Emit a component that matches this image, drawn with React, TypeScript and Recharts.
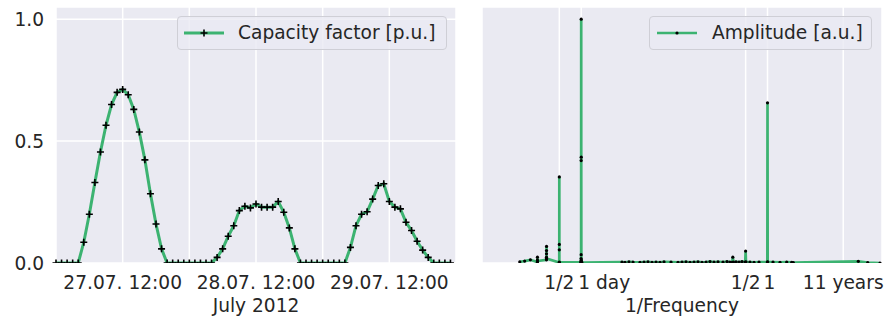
import React from 'react';
import { LineChart, Line, XAxis, YAxis, CartesianGrid } from 'recharts';

// hourly capacity factor, 27.07.2012 00:00 .. 29.07.2012 23:00
const capacityFactor = [
  0, 0, 0, 0, 0, 0.085, 0.2, 0.33, 0.455, 0.565, 0.65, 0.7, 0.712, 0.69, 0.63, 0.537,
  0.423, 0.284, 0.16, 0.058, 0, 0, 0, 0, 0, 0, 0, 0, 0, 0.023, 0.058, 0.11,
  0.153, 0.215, 0.233, 0.226, 0.242, 0.229, 0.229, 0.229, 0.252, 0.208, 0.144, 0.058, 0, 0,
  0, 0, 0, 0, 0, 0, 0, 0.064, 0.153, 0.2, 0.21, 0.262, 0.318, 0.325, 0.252, 0.229,
  0.222, 0.167, 0.133, 0.089, 0.053, 0.023, 0, 0, 0, 0,
];
const hourTicks = [12, 24, 36, 48, 60];
const hourTickLabels = ['27.07. 12:00', '', '28.07. 12:00', '', '29.07. 12:00'];

// spectrum: period in days, amplitude in a.u.
const periodDays = [
  0.1429, 0.1667, 0.2, 0.2495, 0.2498, 0.25, 0.2502, 0.3328, 0.333, 0.3332, 0.3334, 0.3336, 0.3338,
  0.499, 0.4995, 0.4998, 0.5, 0.5005, 0.985, 0.992, 0.996, 0.998, 0.999, 1.0, 1.001, 1.004, 1.01, 1.02,
  3.64, 4.0, 4.54, 5.16, 6.44, 7.31, 8.29, 9.42, 10.69, 12.13, 13.77, 17.19, 21.45, 24.35, 27.64,
  31.37, 35.61, 40.43, 45.89, 52.09, 59.13, 67.11, 76.17, 89.21, 101.3, 111.4, 119.5, 121.75, 124,
  134.7, 148.1, 162.9, 180.5, 182.6, 184.5, 209.8, 238.2, 279.1, 363.5, 365.25, 367, 434.7, 542.7,
  670.8, 786.4, 827, 6480, 8729, 12882,
];
const amplitude = [
  0.005, 0.008, 0.013, 0.004, 0.012, 0.024, 0.008, 0.013, 0.024, 0.038, 0.051, 0.068, 0.018,
  0.002, 0.054, 0.076, 0.353, 0.004, 0.003, 0.008, 0.018, 0.034, 0.42, 1.0, 0.434, 0.012, 0.006, 0.002,
  0.004, 0.003, 0.005, 0.004, 0.003, 0.004, 0.005, 0.003, 0.004, 0.003, 0.005, 0.004, 0.003, 0.004, 0.005,
  0.003, 0.004, 0.005, 0.003, 0.004, 0.006, 0.004, 0.005, 0.004, 0.006, 0.004, 0.003, 0.024, 0.004,
  0.005, 0.004, 0.006, 0.004, 0.049, 0.005, 0.004, 0.003, 0.004, 0.004, 0.657, 0.005, 0.004, 0.003,
  0.004, 0.003, 0.002, 0.007, 0.002, 0,
];
const periodTicks = [0.5, 1, 182.625, 365.25, 4017.75];
const periodTickLabels = ['1/2', '1 day', '1/2', '1', '11 years'];

const yTicks = [0, 0.5, 1.0];

const GREEN = '#3cb371';
const TEXT = '#262626';
const BG = '#eaeaf2';
const FONT = '"DejaVu Sans", sans-serif';
const FS = 18.6;

const cfData = capacityFactor.map((v, i) => ({ hour: i, cf: v }));
const specData = periodDays.map((p, i) => ({ period: p, amp: amplitude[i] }));

const PlusDot = (props: any) => {
  const { cx, cy, index } = props;
  if (cx == null || cy == null) return <g key={`p-${index}`} />;
  return (
    <path
      key={`p-${index}`}
      d={`M${cx - 3.5},${cy}h7M${cx},${cy - 3.5}v7`}
      stroke="#000"
      strokeWidth={1.6}
      fill="none"
    />
  );
};

const LeftYTick = (props: any) => (
  <text x={44} y={props.y} textAnchor="end" dominantBaseline="central" fontSize={FS} fill={TEXT} fontFamily={FONT}>
    {Number(props.payload.value).toFixed(1)}
  </text>
);

const HourTick = (props: any) => {
  const idx = hourTicks.indexOf(props.payload.value);
  return (
    <text x={props.x} y={289} textAnchor="middle" fontSize={FS} fill={TEXT} fontFamily={FONT}>
      {hourTickLabels[idx]}
    </text>
  );
};

const PeriodTick = (props: any) => {
  const idx = periodTicks.indexOf(props.payload.value);
  const label = periodTickLabels[idx];
  let anchor: any = 'middle';
  let dx = 0;
  if (label === '1 day') { anchor = 'start'; dx = -3; }
  if (label === '1') dx = 2;
  return (
    <text x={props.x + dx} y={289} textAnchor={anchor} fontSize={FS} fill={TEXT} fontFamily={FONT}>
      {label}
    </text>
  );
};

const legendBox: React.CSSProperties = {
  position: 'absolute',
  top: 16,
  height: 32,
  border: '1px solid #cfcfd6',
  borderRadius: 4,
  background: 'rgba(234,234,242,0.8)',
  boxSizing: 'content-box',
};

export default function App() {
  return (
    <div style={{ position: 'absolute', left: 0, top: 0, width: 888, height: 321, background: '#fff', fontFamily: FONT }}>
      <div style={{ position: 'absolute', left: 0, top: 0 }}>
        <LineChart width={460} height={321} data={cfData} margin={{ top: 7, right: 4, bottom: 0, left: 8 }}>
          <CartesianGrid fill={BG} stroke="#fff" strokeWidth={1.5} />
          <XAxis
            dataKey="hour"
            type="number"
            domain={[0, 72]}
            ticks={hourTicks}
            tick={<HourTick />}
            tickLine={false}
            axisLine={false}
            height={58}
            interval={0}
          />
          <YAxis
            type="number"
            domain={[0, 1.05]}
            ticks={yTicks}
            tick={<LeftYTick />}
            tickLine={false}
            axisLine={false}
            width={48}
            allowDataOverflow
          />
          <Line
            dataKey="cf"
            type="linear"
            stroke={GREEN}
            strokeWidth={3}
            dot={PlusDot}
            activeDot={false}
            isAnimationActive={false}
          />
        </LineChart>
      </div>
      <div style={{ position: 'absolute', left: 460, top: 0 }}>
        <LineChart width={428} height={321} data={specData} margin={{ top: 7, right: 6, bottom: 0, left: 22 }}>
          <CartesianGrid fill={BG} stroke="#fff" strokeWidth={1.5} />
          <XAxis
            dataKey="period"
            type="number"
            scale="log"
            domain={[0.0432, 13720]}
            ticks={periodTicks}
            tick={<PeriodTick />}
            tickLine={false}
            axisLine={false}
            height={58}
            interval={0}
            allowDataOverflow
          />
          <YAxis
            type="number"
            domain={[0, 1.05]}
            ticks={yTicks}
            tick={false}
            tickLine={false}
            axisLine={false}
            width={0}
            allowDataOverflow
          />
          <Line
            dataKey="amp"
            type="linear"
            stroke={GREEN}
            strokeWidth={2.7}
            dot={{ r: 1.6, fill: '#000', stroke: 'none' }}
            activeDot={false}
            isAnimationActive={false}
          />
        </LineChart>
      </div>

      <svg width={888} height={321} style={{ position: 'absolute', left: 0, top: 0, pointerEvents: 'none' }}>
        <text x={256} y={312} textAnchor="middle" fontSize={FS} fill={TEXT} fontFamily={FONT}>July 2012</text>
        <text x={682} y={312} textAnchor="middle" fontSize={FS} fill={TEXT} fontFamily={FONT}>1/Frequency</text>
      </svg>

      <div style={{ ...legendBox, left: 177, width: 268 }}>
        <svg width={50} height={32} style={{ position: 'absolute', left: 0, top: 0 }}>
          <line x1={6} x2={46} y1={16} y2={16} stroke={GREEN} strokeWidth={3} />
          <path d="M22.5,16h7M26,12.5v7" stroke="#000" strokeWidth={1.6} />
        </svg>
        <div style={{ position: 'absolute', left: 60, top: 0, lineHeight: '32px', fontSize: FS, color: TEXT, whiteSpace: 'nowrap' }}>
          Capacity factor [p.u.]
        </div>
      </div>
      <div style={{ ...legendBox, left: 649, width: 221 }}>
        <svg width={50} height={32} style={{ position: 'absolute', left: 0, top: 0 }}>
          <line x1={7} x2={47} y1={16} y2={16} stroke={GREEN} strokeWidth={2.7} />
          <circle cx={27} cy={16} r={1.6} fill="#000" />
        </svg>
        <div style={{ position: 'absolute', left: 62, top: 0, lineHeight: '32px', fontSize: FS, color: TEXT, whiteSpace: 'nowrap' }}>
          Amplitude [a.u.]
        </div>
      </div>
    </div>
  );
}
